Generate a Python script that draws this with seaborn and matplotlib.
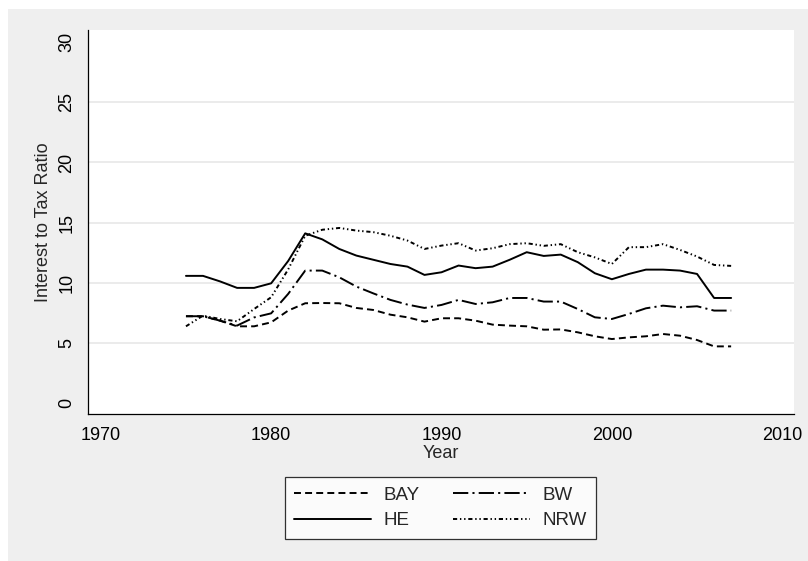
import matplotlib
matplotlib.use('Agg')
import matplotlib.pyplot as plt
import matplotlib.patches as mpatches
import seaborn as sns
import pandas as pd

# Data (1975-2007)
years = list(range(1975, 2008))

bay = [7.2, 7.2, 6.83, 6.36, 6.36, 6.69, 7.67, 8.28, 8.3, 8.28,
       7.89, 7.72, 7.33, 7.11, 6.75, 7.03, 7.03, 6.83, 6.5, 6.42,
       6.36, 6.08, 6.1, 5.86, 5.53, 5.3, 5.44, 5.53, 5.72, 5.58,
       5.22, 4.69, 4.69]
bw = [7.2, 7.2, 6.83, 6.42, 7.1, 7.44, 9.06, 11.0, 11.0, 10.44,
      9.67, 9.1, 8.56, 8.17, 7.89, 8.14, 8.56, 8.22, 8.36, 8.72,
      8.72, 8.42, 8.42, 7.8, 7.11, 6.97, 7.39, 7.86, 8.08, 7.94,
      8.03, 7.67, 7.67]
he = [10.56, 10.56, 10.1, 9.56, 9.56, 9.94, 11.8, 14.1, 13.6, 12.8,
      12.25, 11.9, 11.55, 11.33, 10.64, 10.86, 11.42, 11.2, 11.33, 11.9,
      12.53, 12.22, 12.33, 11.7, 10.78, 10.28, 10.72, 11.08, 11.08, 11.0,
      10.72, 8.72, 8.72]
nrw = [6.36, 7.25, 6.97, 6.78, 7.8, 8.78, 11.1, 13.9, 14.4, 14.55,
       14.33, 14.2, 13.9, 13.5, 12.8, 13.08, 13.28, 12.67, 12.86, 13.2,
       13.28, 13.06, 13.2, 12.53, 12.1, 11.55, 12.95, 12.95, 13.2, 12.72,
       12.17, 11.47, 11.39]

states = ['BAY', 'BW', 'HE', 'NRW']
x_ticks = [1970, 1980, 1990, 2000, 2010]
y_ticks = [0, 5, 10, 15, 20, 25, 30]

df = pd.concat([
    pd.DataFrame({'Year': years, 'ratio': vals, 'state': name})
    for name, vals in zip(states, [bay, bw, he, nrw])
])

sns.set_style('white')
plt.rcParams['font.family'] = ['Liberation Sans', 'DejaVu Sans']
plt.rcParams['lines.scale_dashes'] = False

fig = plt.figure(figsize=(8.08, 5.61), dpi=100)
fig.patch.set_facecolor('white')
# Stata-like grey graph region
fig.patches.append(mpatches.Rectangle((8 / 808, 0), 1, 1 - 9 / 561,
                                      transform=fig.transFigure,
                                      facecolor='#efefef', edgecolor='none',
                                      zorder=-10))

ax = fig.add_axes([88 / 808, 1 - 414 / 561, (794 - 88) / 808, (414 - 30) / 561])
ax.set_facecolor('white')

dash_map = {
    'BAY': (5, 3),
    'BW': (11, 3, 1.5, 3),
    'HE': '',
    'NRW': (3, 2, 1, 2, 1, 2),
}
palette = {s: 'black' for s in states}

sns.lineplot(data=df, x='Year', y='ratio', hue='state', style='state',
             palette=palette, dashes=dash_map, linewidth=1.4,
             hue_order=states, style_order=states, legend=False, ax=ax)

ax.set_xlim(1969.25, 2010.69)
ax.set_ylim(-0.94, 31.03)
ax.set_xticks(x_ticks)
ax.set_yticks(y_ticks)
ax.set_yticklabels([str(v) for v in y_ticks], rotation=90, va='center')

for v in y_ticks[1:-1]:
    ax.axhline(v, color='#e8e8e8', linewidth=1.2, zorder=0)

for side in ['top', 'right']:
    ax.spines[side].set_visible(False)
for side in ['left', 'bottom']:
    ax.spines[side].set_color('black')
    ax.spines[side].set_linewidth(0.9)

ax.tick_params(axis='both', direction='out', length=5, width=0.8,
               color='black', labelsize=13, labelcolor='black')
ax.tick_params(axis='x', pad=4)
ax.tick_params(axis='y', pad=4)

ax.set_xlabel('Year', fontsize=13, labelpad=1)
ax.set_ylabel('Interest to Tax Ratio', fontsize=13, labelpad=5)

# legend: rows BAY/BW, HE/NRW
order = ['BAY', 'HE', 'BW', 'NRW']
handles = [plt.Line2D([], [], color='black', linewidth=1.4,
                      linestyle='-' if dash_map[s] == '' else (0, dash_map[s]))
           for s in order]
leg = fig.legend(handles, order, ncol=2, loc='center',
                 bbox_to_anchor=(440.5 / 808, 53 / 561),
                 frameon=True, fancybox=False, shadow=False,
                 fontsize=13.5, handlelength=4.1, handletextpad=0.65,
                 columnspacing=1.8, labelspacing=0.45, borderpad=0.5)
leg.get_frame().set_edgecolor('black')
leg.get_frame().set_linewidth(0.9)
leg.get_frame().set_facecolor('white')

fig.savefig('out.png', dpi=100)
